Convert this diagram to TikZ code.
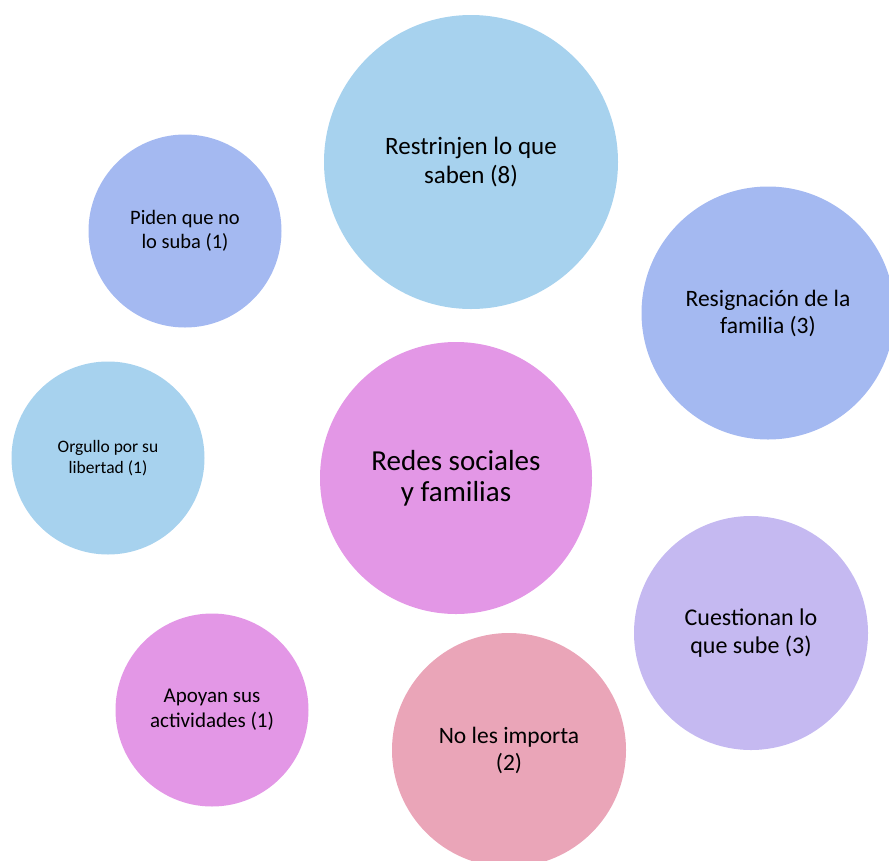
\documentclass[tikz,border=0pt]{standalone}
\usepackage{fontspec}
\setmainfont{Carlito}
\definecolor{skyfill}{HTML}{A7D2EE}
\definecolor{periwinkle}{HTML}{A4B9F1}
\definecolor{lavenderfill}{HTML}{C5B9F1}
\definecolor{rosefill}{HTML}{EAA5B8}
\definecolor{orchidfill}{HTML}{E397E6}
\begin{document}
\begin{tikzpicture}[x=1pt,y=-1pt,
  bubble/.style={circle,draw=none,align=center,inner sep=0pt,text=black}]
\useasboundingbox (0,0) rectangle (889,860);
\begin{scope}
\clip (0,0) rectangle (889,860);
\node[bubble,fill=orchidfill,minimum size=272pt,font=\fontsize{29}{31}\selectfont] (hub) at (456,478) {Redes sociales\\y familias};
\node[bubble,fill=skyfill,minimum size=294pt,font=\fontsize{25}{29}\selectfont] (restr) at (471,162) {Restrinjen lo que\\saben (8)};
\node[bubble,fill=periwinkle,minimum size=193pt,font=\fontsize{20.5}{24}\selectfont] (piden) at (185,231) {Piden que no\\lo suba (1)};
\node[bubble,fill=periwinkle,minimum size=253pt,font=\fontsize{23.5}{27}\selectfont] (resig) at (768,313) {Resignación de la\\familia (3)};
\node[bubble,fill=skyfill,minimum size=193pt,font=\fontsize{17.5}{21}\selectfont] (orgullo) at (108,458) {Orgullo por su\\libertad (1)};
\node[bubble,fill=lavenderfill,minimum size=234pt,font=\fontsize{24}{28}\selectfont] (cuest) at (751,633) {Cuestionan lo\\que sube (3)};
\node[bubble,fill=rosefill,minimum size=234pt,font=\fontsize{23.5}{27}\selectfont] (noimp) at (509,750) {No les importa\\(2)};
\node[bubble,fill=orchidfill,minimum size=193pt,font=\fontsize{21}{25}\selectfont] (apoyan) at (212,710) {Apoyan sus\\actividades (1)};
\end{scope}
\end{tikzpicture}
\end{document}
